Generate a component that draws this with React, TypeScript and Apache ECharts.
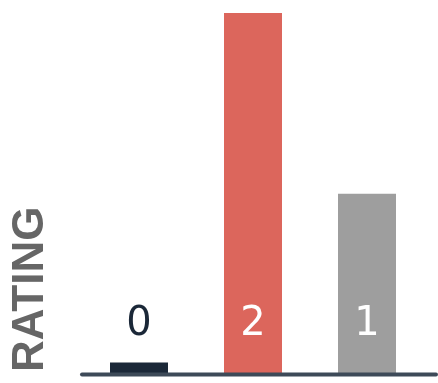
import React, { useEffect, useRef } from "react";
import * as echarts from "echarts";

const categories = ["A", "B", "C"];
const values = [0, 2, 1];
const barColors = ["#1b2838", "#dc665c", "#9e9e9e"];
const labelColors = ["#1b2838", "#ffffff", "#ffffff"];
const axisTitle = "RATING";

export default function App() {
  const ref = useRef<HTMLDivElement>(null);
  useEffect(() => {
    const chart = echarts.init(ref.current!, undefined, { renderer: "svg" });
    chart.setOption({
      animation: false,
      grid: { left: 82, right: 14, top: 13, bottom: 8.5 },
      xAxis: {
        type: "category",
        data: categories,
        axisLine: { show: false },
        axisTick: { show: false },
        axisLabel: { show: false },
      },
      yAxis: {
        type: "value",
        min: 0,
        max: 2,
        show: false,
        splitLine: { show: false },
      },
      series: [
        {
          type: "bar",
          barWidth: 58,
          barMinHeight: 12,
          data: values.map((v, i) => ({
            value: v,
            itemStyle: { color: barColors[i] },
            label: { color: labelColors[i] },
          })),
          label: {
            show: true,
            position: "insideBottom",
            distance: 34,
            fontFamily: "DejaVu Sans",
            fontSize: 40,
          },
        },
      ],
      graphic: [
        {
          type: "line",
          shape: { x1: 82, y1: 374.5, x2: 436, y2: 374.5 },
          style: { stroke: "#3d4a58", lineWidth: 4, lineCap: "round" },
          z: 10,
        },
        {
          type: "text",
          x: 27,
          y: 372,
          rotation: Math.PI / 2,
          style: {
            text: axisTitle,
            fontFamily: "Liberation Sans",
            fontWeight: "bold",
            fontSize: 44,
            fill: "#666666",
            align: "left",
            verticalAlign: "middle",
          },
        },
      ],
    });
    return () => chart.dispose();
  }, []);
  return (
    <div
      ref={ref}
      style={{ position: "fixed", left: 0, top: 0, width: 438, height: 383 }}
    />
  );
}
